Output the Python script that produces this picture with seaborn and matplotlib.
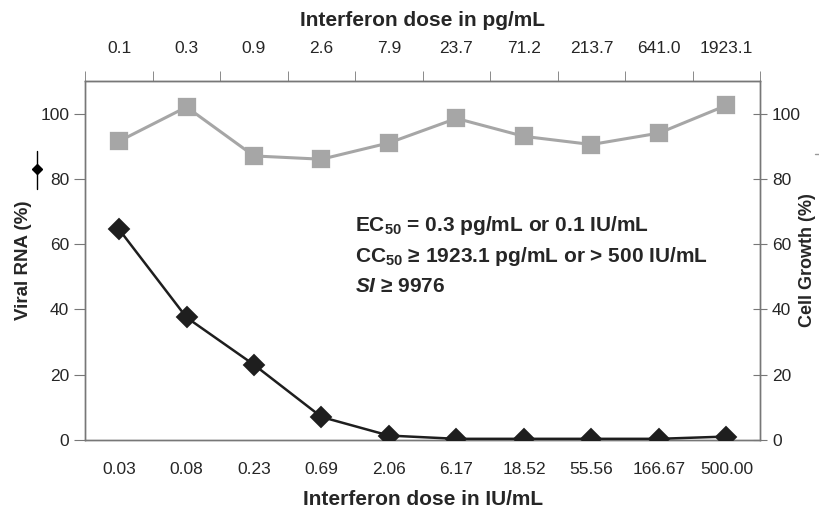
import numpy as np
import pandas as pd
import seaborn as sns
import matplotlib.pyplot as plt
from matplotlib.lines import Line2D

# doses (category labels)
iu_labels = ['0.03', '0.08', '0.23', '0.69', '2.06', '6.17', '18.52', '55.56', '166.67', '500.00']
pg_labels = ['0.1', '0.3', '0.9', '2.6', '7.9', '23.7', '71.2', '213.7', '641.0', '1923.1']

viral_rna = [64.5, 37.5, 23.0, 7.0, 1.3, 0.3, 0.3, 0.3, 0.3, 1.0]
cell_growth = [91.5, 102.0, 87.0, 86.0, 91.0, 98.5, 93.0, 90.5, 94.0, 102.5]

df = pd.DataFrame({'dose': iu_labels, 'rna': viral_rna, 'growth': cell_growth})

sns.set_style('white')
plt.rcParams['font.family'] = ['Liberation Sans', 'DejaVu Sans']
plt.rcParams['mathtext.fontset'] = 'custom'
plt.rcParams['mathtext.rm'] = 'Liberation Sans:bold'
plt.rcParams['mathtext.it'] = 'Liberation Sans:italic:bold'

fig = plt.figure(figsize=(8.2, 5.12), dpi=100)
ax = fig.add_axes([0.104, 0.141, 0.823, 0.701])
ax2 = ax.twinx()

sns.pointplot(data=df, x='dose', y='growth', ax=ax2, color='#a6a6a6', markers='s',
              markersize=12, linewidth=2.2, zorder=2)
sns.pointplot(data=df, x='dose', y='rna', ax=ax, color='#1e1e1e', markers='D',
              markersize=10, linewidth=1.8, zorder=3)
ax.set_zorder(ax2.get_zorder() + 1)
ax.patch.set_visible(False)

for a in (ax, ax2):
    a.set_xlim(-0.5, 9.5)
    a.set_ylim(0, 110)
    a.set_yticks([0, 20, 40, 60, 80, 100])
    for s in a.spines.values():
        s.set_color('#777777')
        s.set_linewidth(1.0)

n = len(iu_labels)
ax.set_xticks(range(n))
ax.set_xticklabels(iu_labels)
ax.set_xticks(np.arange(-0.5, n, 1.0), minor=True)
ax.tick_params(axis='x', which='major', length=0, labelsize=12.5, pad=16)
ax.tick_params(axis='x', which='minor', length=10, direction='inout', color='#777777')
ax.tick_params(axis='y', left=True, length=8, direction='out', color='#777777', labelsize=12.5)
ax2.tick_params(axis='y', right=True, length=10, direction='inout', color='#777777', labelsize=12.5)

top = ax.secondary_xaxis('top')
top.set_xticks(range(n))
top.set_xticklabels(pg_labels)
top.set_xticks(np.arange(-0.5, n, 1.0), minor=True)
top.tick_params(axis='x', which='major', length=0, labelsize=12.5, pad=18)
top.tick_params(axis='x', which='minor', length=7, direction='out', color='#777777')
top.spines['top'].set_color('#777777')
top.set_xlabel('Interferon dose in pg/mL', fontsize=15, fontweight='bold', labelpad=11)

ax.set_xlabel('Interferon dose in IU/mL', fontsize=15, fontweight='bold', labelpad=9)
ax.set_ylabel('Viral RNA (%)', fontsize=13.5, fontweight='bold')
ax2.set_ylabel('Cell Growth (%)', fontsize=13, fontweight='bold')
ax.yaxis.set_label_coords(-0.079, 0.5)
ax2.yaxis.set_label_coords(1.057, 0.5)

# legend-like glyphs next to axis titles
fig.add_artist(Line2D([0.045, 0.045], [0.63, 0.705], color='black', lw=1.0))
fig.add_artist(Line2D([0.045], [0.67], marker='D', markersize=5, color='black'))
fig.add_artist(Line2D([0.994, 1.0], [0.70, 0.70], color='#999999', lw=1.0))

txt = dict(fontsize=15, fontweight='bold', transform=ax.transAxes, va='center')
ax.text(0.40, 0.596, 'EC$_{50}$ = 0.3 pg/mL or 0.1 IU/mL', **txt)
ax.text(0.40, 0.512, 'CC$_{50}$ \u2265 1923.1 pg/mL or > 500 IU/mL', **txt)
ax.text(0.40, 0.428, '$SI$ \u2265 9976', **txt)

fig.savefig('out.png', dpi=100)
